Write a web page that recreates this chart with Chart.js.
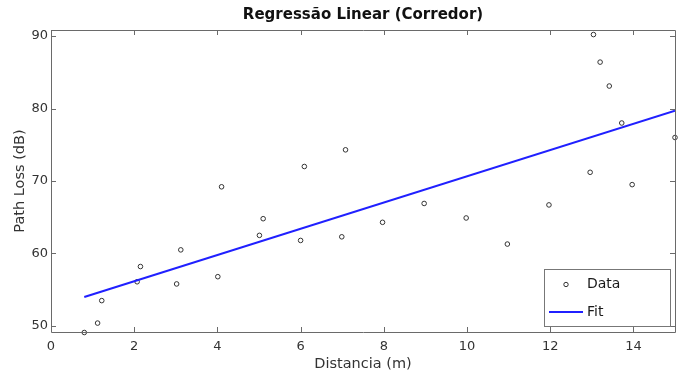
<!DOCTYPE html>
<html>
<head>
<meta charset="utf-8">
<script src="https://cdn.jsdelivr.net/npm/chart.js@4.4.1/dist/chart.umd.min.js"></script>
<style>
html,body{margin:0;padding:0;background:#fff;}
#wrap{width:685px;height:374px;position:relative;}
</style>
</head>
<body>
<div id="wrap"><canvas id="c" width="685" height="374"></canvas></div>
<script>
const chartTitle = 'Regressão Linear (Corredor)';
const xAxisLabel = 'Distancia (m)';
const yAxisLabel = 'Path Loss (dB)';
const dataLabel = 'Data';
const fitLabel = 'Fit';

const distances = [0.8, 1.12, 1.22, 2.07, 2.15, 3.02, 3.12, 4.01, 4.1, 5.01, 5.1, 6.0, 6.09, 6.99, 7.08, 7.97, 8.97, 9.98, 10.97, 11.97, 13.04, 12.96, 13.2, 13.42, 13.72, 13.97, 15.0];
const pathLoss = [49.1, 50.4, 53.5, 56.1, 58.2, 55.8, 60.5, 56.8, 69.2, 62.5, 64.8, 61.8, 72.0, 62.3, 74.3, 64.3, 66.9, 64.9, 61.3, 66.7, 90.2, 71.2, 86.4, 83.1, 78.0, 69.5, 76.0];

const fitX = [0.8, 15];
const fitY = [54.0, 79.7];

const xTicks = [0, 2, 4, 6, 8, 10, 12, 14];
const yTicks = [50, 60, 70, 80, 90];
const xRange = [0, 15];
const yRange = [49.17, 90.83];

const AX = '#6a6a6a';
const TXT = '#333333';

const frame = {
  id: 'frame',
  afterDraw(chart) {
    const {ctx, chartArea: a, scales} = chart;
    ctx.save();
    // title centred over the axes
    ctx.fillStyle = '#111';
    ctx.font = 'bold 15px "DejaVu Sans"';
    ctx.textAlign = 'center';
    ctx.textBaseline = 'middle';
    ctx.fillText(chartTitle, (a.left + a.right) / 2, 15);

    ctx.strokeStyle = AX;
    ctx.lineWidth = 1;
    ctx.beginPath();
    ctx.rect(Math.round(a.left) + 0.5, Math.round(a.top) + 0.5, Math.round(a.right - a.left), Math.round(a.bottom - a.top));
    ctx.stroke();
    const L = 5;
    ctx.beginPath();
    scales.x.ticks.forEach(t => {
      const px = Math.round(scales.x.getPixelForValue(t.value)) + 0.5;
      ctx.moveTo(px, a.bottom); ctx.lineTo(px, a.bottom - L);
      ctx.moveTo(px, a.top); ctx.lineTo(px, a.top + L);
    });
    scales.y.ticks.forEach(t => {
      const py = Math.round(scales.y.getPixelForValue(t.value)) + 0.5;
      ctx.moveTo(a.left, py); ctx.lineTo(a.left + L, py);
      ctx.moveTo(a.right, py); ctx.lineTo(a.right - L, py);
    });
    ctx.stroke();

    // legend box
    const bx = 544, by = 269, bw = 126, bh = 57;
    ctx.fillStyle = '#fff';
    ctx.fillRect(bx, by, bw, bh);
    ctx.strokeStyle = '#777';
    ctx.strokeRect(bx + 0.5, by + 0.5, bw, bh);
    const ds = chart.data.datasets;
    ctx.strokeStyle = ds[0].borderColor;
    ctx.lineWidth = 1;
    ctx.beginPath();
    ctx.arc(566, 284.5, 2.2, 0, Math.PI * 2);
    ctx.stroke();
    ctx.strokeStyle = ds[1].borderColor;
    ctx.lineWidth = 2;
    ctx.beginPath();
    ctx.moveTo(549, 312); ctx.lineTo(583, 312);
    ctx.stroke();
    ctx.fillStyle = '#1a1a1a';
    ctx.font = '14px "DejaVu Sans"';
    ctx.textBaseline = 'middle';
    ctx.textAlign = 'left';
    ctx.fillText(ds[0].label, 587, 284.5);
    ctx.fillText(ds[1].label, 587, 312);
    ctx.restore();
  }
};

new Chart(document.getElementById('c'), {
  type: 'scatter',
  data: {
    datasets: [
      {
        label: dataLabel,
        data: distances.map((x, i) => ({x, y: pathLoss[i]})),
        pointStyle: 'circle',
        pointRadius: 2.3,
        pointBorderWidth: 1,
        borderColor: '#333333',
        backgroundColor: 'rgba(0,0,0,0)',
        clip: false,
        order: 2
      },
      {
        label: fitLabel,
        type: 'line',
        data: fitX.map((x, i) => ({x, y: fitY[i]})),
        showLine: true,
        borderColor: '#2020ff',
        borderWidth: 2,
        pointRadius: 0,
        fill: false,
        order: 1
      }
    ]
  },
  options: {
    responsive: false,
    animation: false,
    layout: {padding: {left: 0, right: 10, top: 30, bottom: 0}},
    plugins: {
      legend: {display: false},
      tooltip: {enabled: false},
      title: {display: false}
    },
    scales: {
      x: {
        type: 'linear',
        min: xRange[0], max: xRange[1],
        grid: {display: false, drawTicks: false},
        border: {display: false},
        afterBuildTicks: s => { s.ticks = xTicks.map(v => ({value: v})); },
        afterFit: s => { s.height = 42; },
        ticks: {color: TXT, font: {family: '"DejaVu Sans"', size: 13}, padding: 7, maxRotation: 0, autoSkip: false},
        title: {display: true, text: xAxisLabel, color: TXT, font: {family: '"DejaVu Sans"', size: 14.5}, padding: {top: 0, bottom: 1}}
      },
      y: {
        type: 'linear',
        min: yRange[0], max: yRange[1],
        grid: {display: false, drawTicks: false},
        border: {display: false},
        afterBuildTicks: s => { s.ticks = yTicks.map(v => ({value: v})); },
        afterFit: s => { s.width = 51; },
        ticks: {color: TXT, font: {family: '"DejaVu Sans"', size: 13}, padding: 3, autoSkip: false},
        title: {display: true, text: yAxisLabel, color: TXT, font: {family: '"DejaVu Sans"', size: 14.5}, padding: {top: 12, bottom: 0}}
      }
    }
  },
  plugins: [frame]
});
</script>
</body>
</html>
